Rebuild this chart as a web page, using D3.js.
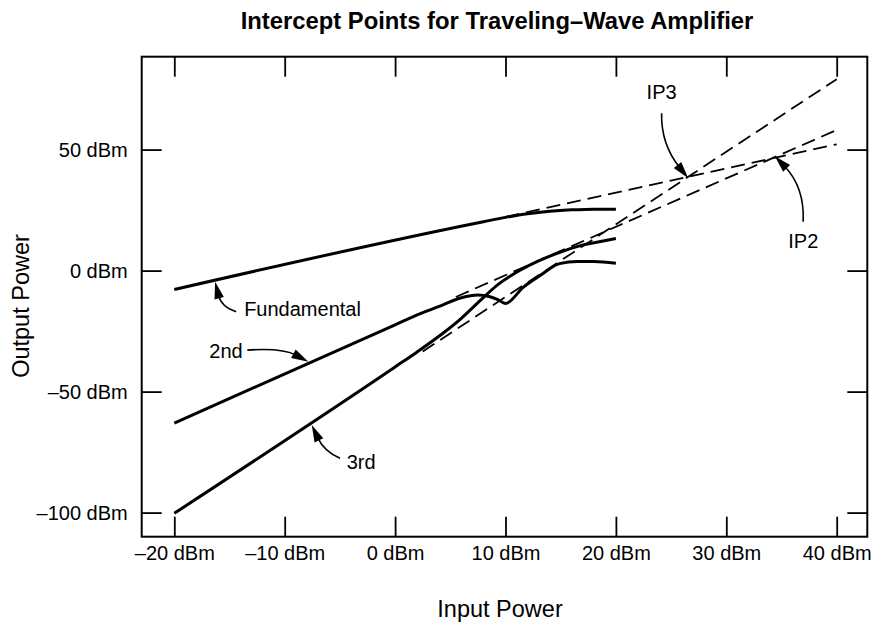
<!DOCTYPE html>
<html>
<head>
<meta charset="utf-8">
<script src="https://cdn.jsdelivr.net/npm/d3@7"></script>
<style>
  html, body { margin: 0; padding: 0; background: #fff; }
  svg { display: block; font-family: "Liberation Sans", Arial, Helvetica, sans-serif; }
</style>
</head>
<body>
<svg id="chart" width="875" height="624"></svg>
<script>
// ---- Data ----
const xTickValues = [-20, -10, 0, 10, 20, 30, 40];
const xTickLabels = ["\u201320 dBm", "\u201310 dBm", "0 dBm", "10 dBm", "20 dBm", "30 dBm", "40 dBm"];
const yTickValues = [-100, -50, 0, 50];
const yTickLabels = ["\u2013100 dBm", "\u201350 dBm", "0 dBm", "50 dBm"];

// Fundamental output vs input power (dBm)
const fundIn  = [-20, 8, 10, 12, 14, 16, 18, 20];
const fundOut = [-7.8, 20.2, 22.0, 23.5, 24.5, 25.1, 25.4, 25.4];
// 2nd-order product
const secondIn  = [-20, 0, 2, 4, 6, 7.5, 8.5, 9.3, 10, 11.6, 13.2, 14.9, 16.5, 18, 20];
const secondOut = [-63, -22.4, -18.3, -14.8, -11.2, -10.1, -10.7, -12.0, -13.6, -6.9, -1.8, 2.9, 3.8, 3.8, 3.0];
// 3rd-order product
const thirdIn  = [-20, 0, 2, 4.3, 6, 7.7, 9.2, 11, 13, 15, 16.7, 18.5, 20];
const thirdOut = [-100.3, -39.8, -33.6, -26, -19.7, -12.4, -6.2, -0.7, 4.0, 7.7, 10.2, 11.9, 13.3];

// Dashed extrapolations
const fundExtIn = [10, 40],   fundExtOut = [22.2, 52.2];
const secondExtIn = [5.5, 40], secondExtOut = [-10.9, 58.1];
const thirdExtIn = [2.5, 40],  thirdExtOut = [-33.4, 79.1];

// Annotations: label, tip (data coords), then pixel offsets from tip
const annLabels = ["Fundamental", "2nd", "3rd", "IP3", "IP2"];
const annTipIn  = [-16.3, -7.86, -7.55, 26.55, 34.4];
const annTipOut = [-4.6, -37.7, -63.8, 38.2, 47.3];
const annTail   = [[21, 30], [-61, -11.7], [28.3, 33.3], [-26.6, -64.8], [28.3, 65.7]];
const annCtrl   = [[6.1, 25], [-26.1, -14.2], [12.5, 26.8], [-27.3, -33.9], [29.9, 31.2]];
const annText   = [[29, 34.5], [-99, -4], [35, 44.3], [-41.6, -78.8], [13.4, 92.3]];

// ---- Layout ----
const svg = d3.select("#chart");
const frame = { left: 141.7, right: 867.3, top: 56.7, bottom: 536.7 };

const x = d3.scaleLinear().domain([-20, 40]).range([174.3, 836.7]);
const y = d3.scaleLinear().domain([-100, 50]).range([512.6, 149.6]);

// Title
svg.append("text")
  .attr("x", 497).attr("y", 29.3)
  .attr("text-anchor", "middle")
  .attr("font-size", 23.8).attr("font-weight", "bold")
  .text("Intercept Points for Traveling\u2013Wave Amplifier");

// Frame
svg.append("rect")
  .attr("x", frame.left).attr("y", frame.top)
  .attr("width", frame.right - frame.left).attr("height", frame.bottom - frame.top)
  .attr("fill", "none").attr("stroke", "#000").attr("stroke-width", 2);

function styleAxis(g) {
  g.select(".domain").remove();
  g.selectAll(".tick line").attr("stroke", "#000").attr("stroke-width", 1.8);
  g.selectAll("text").attr("fill", "#000").attr("font-size", 20)
    .attr("font-family", '"Liberation Sans", Arial, Helvetica, sans-serif');
}

// Bottom axis
svg.append("g").attr("transform", `translate(0,${frame.bottom})`)
  .call(d3.axisBottom(x).tickValues(xTickValues).tickSize(-20).tickPadding(9.5)
    .tickFormat((d, i) => xTickLabels[i]))
  .call(styleAxis);
// Top axis (ticks only)
svg.append("g").attr("transform", `translate(0,${frame.top})`)
  .call(d3.axisTop(x).tickValues(xTickValues).tickSize(-20).tickFormat(""))
  .call(styleAxis);
// Left axis
svg.append("g").attr("transform", `translate(${frame.left},0)`)
  .call(d3.axisLeft(y).tickValues(yTickValues).tickSize(-20).tickPadding(14)
    .tickFormat((d, i) => yTickLabels[i]))
  .call(styleAxis);
// Right axis (ticks only)
svg.append("g").attr("transform", `translate(${frame.right},0)`)
  .call(d3.axisRight(y).tickValues(yTickValues).tickSize(-20).tickFormat(""))
  .call(styleAxis);

// Axis titles
svg.append("text")
  .attr("x", 500).attr("y", 616.5)
  .attr("text-anchor", "middle").attr("font-size", 23.5)
  .text("Input Power");
svg.append("text")
  .attr("transform", "translate(28.5,306) rotate(-90)")
  .attr("text-anchor", "middle").attr("font-size", 23.5)
  .text("Output Power");

// Lines
const zip = (a, b) => a.map((v, i) => [v, b[i]]);
const line = d3.line().x(d => x(d[0])).y(d => y(d[1])).curve(d3.curveMonotoneX);
const straight = d3.line().x(d => x(d[0])).y(d => y(d[1]));

const plot = svg.append("g");

[[fundExtIn, fundExtOut], [secondExtIn, secondExtOut], [thirdExtIn, thirdExtOut]].forEach(([a, b]) => {
  plot.append("path")
    .attr("d", straight(zip(a, b)))
    .attr("fill", "none").attr("stroke", "#000")
    .attr("stroke-width", 1.8).attr("stroke-dasharray", "14,7");
});

[[fundIn, fundOut], [secondIn, secondOut], [thirdIn, thirdOut]].forEach(([a, b]) => {
  plot.append("path")
    .attr("d", line(zip(a, b)))
    .attr("fill", "none").attr("stroke", "#000")
    .attr("stroke-width", 3).attr("stroke-linejoin", "round").attr("stroke-linecap", "butt");
});

// Annotations
const headLen = 17, headHalf = 4.8;
annLabels.forEach((lab, i) => {
  const tx = x(annTipIn[i]), ty = y(annTipOut[i]);
  const p0 = [tx + annTail[i][0], ty + annTail[i][1]];
  const c  = [tx + annCtrl[i][0], ty + annCtrl[i][1]];
  let dx = tx - c[0], dy = ty - c[1];
  const len = Math.hypot(dx, dy); dx /= len; dy /= len;
  const bx = tx - dx * headLen, by = ty - dy * headLen;
  svg.append("path")
    .attr("d", `M${p0[0]},${p0[1]} Q${c[0]},${c[1]} ${bx + dx * 3},${by + dy * 3}`)
    .attr("fill", "none").attr("stroke", "#000").attr("stroke-width", 1.6);
  const nx = -dy, ny = dx;
  svg.append("path")
    .attr("d", `M${tx},${ty} L${bx + nx * headHalf},${by + ny * headHalf} L${bx - nx * headHalf},${by - ny * headHalf} Z`)
    .attr("fill", "#000");
  svg.append("text")
    .attr("x", tx + annText[i][0]).attr("y", ty + annText[i][1])
    .attr("font-size", 20)
    .text(lab);
});
</script>
</body>
</html>
